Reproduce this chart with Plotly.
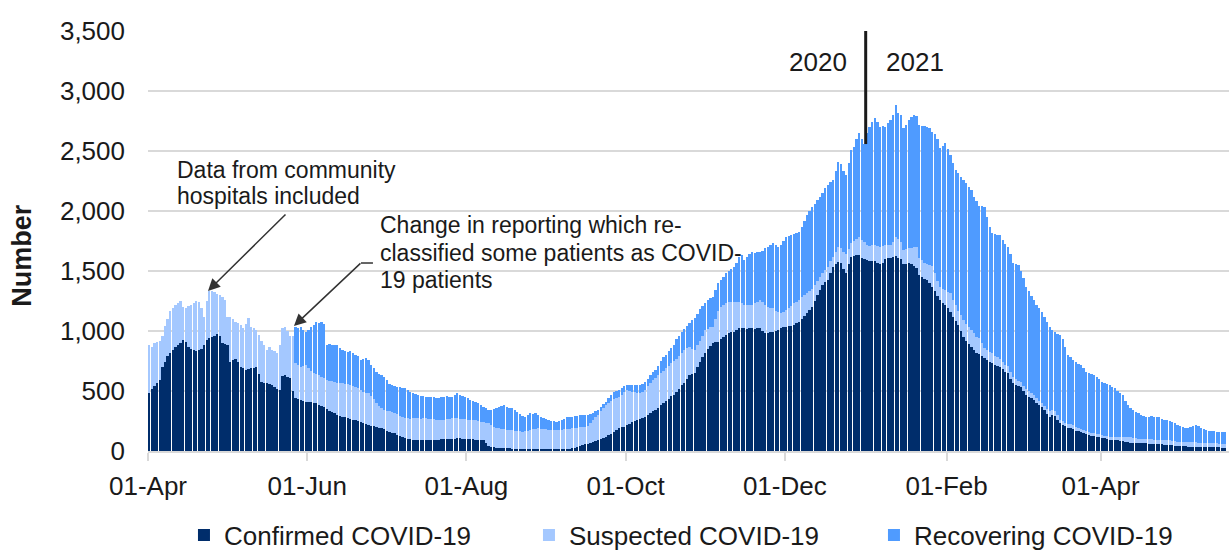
import pandas as pd
import plotly.graph_objects as go

start_date = "2020-04-01"

confirmed = [
    486, 520, 545, 570, 592, 700, 744, 790, 816, 840,
    870, 883, 900, 925, 910, 869, 850, 840, 836, 845,
    850, 880, 925, 940, 950, 960, 975, 955, 900, 890,
    885, 744, 760, 769, 740, 700, 690, 675, 680, 690,
    695, 700, 640, 578, 570, 565, 560, 550, 536, 520,
    508, 628, 630, 620, 610, 500, 439, 430, 425, 418,
    411, 410, 405, 400, 397, 385, 375, 369, 350, 335,
    328, 315, 300, 290, 286, 280, 272, 265, 260, 258,
    250, 240, 232, 225, 217, 210, 205, 200, 195, 189,
    180, 170, 160, 152, 147, 135, 125, 115, 106, 100,
    96, 94, 92, 92, 90, 92, 94, 92, 92, 92,
    94, 95, 97, 97, 97, 100, 102, 104, 106, 106,
    104, 102, 100, 98, 97, 95, 94, 92, 92, 70,
    45, 36, 32, 28, 26, 24, 22, 22, 22, 20,
    18, 17, 16, 15, 15, 15, 14, 15, 15, 15,
    15, 14, 15, 15, 16, 15, 15, 16, 17, 18,
    19, 20, 22, 26, 32, 40, 48, 55, 62, 68,
    75, 82, 92, 100, 110, 119, 130, 145, 160, 175,
    189, 196, 203, 215, 228, 240, 250, 258, 265, 275,
    286, 300, 315, 330, 342, 360, 380, 397, 415, 435,
    455, 467, 490, 520, 550, 564, 600, 633, 640, 647,
    700, 740, 780, 814, 850, 875, 897, 905, 911, 930,
    950, 967, 980, 990, 994, 1010, 1022, 1025, 1022, 1020,
    1022, 1022, 1015, 1022, 1022, 1000, 985, 981, 990, 994,
    1000, 1010, 1022, 1030, 1036, 1040, 1045, 1050, 1065, 1078,
    1100, 1125, 1147, 1175, 1203, 1250, 1300, 1342, 1380, 1410,
    1425, 1480, 1536, 1560, 1578, 1570, 1520, 1480, 1560, 1619,
    1625, 1630, 1630, 1610, 1600, 1590, 1585, 1580, 1583, 1570,
    1556, 1570, 1597, 1605, 1611, 1620, 1625, 1610, 1597, 1556,
    1560, 1570, 1555, 1540, 1528, 1467, 1450, 1435, 1425, 1400,
    1369, 1330, 1290, 1258, 1235, 1217, 1190, 1161, 1120, 1080,
    1050, 1000, 953, 920, 890, 869, 840, 815, 808, 790,
    772, 760, 745, 731, 720, 710, 703, 680, 660, 647,
    600, 564, 550, 540, 536, 500, 470, 453, 440, 425,
    400, 380, 369, 340, 310, 286, 300, 290, 260, 230,
    217, 205, 195, 189, 180, 170, 165, 161, 150, 140,
    133, 128, 122, 119, 115, 110, 106, 100, 95, 92,
    90, 88, 84, 80, 78, 74, 70, 66, 64, 64,
    64, 63, 64, 62, 60, 58, 58, 57, 55, 52,
    50, 48, 46, 45, 44, 42, 40, 38, 36, 36,
    35, 36, 36, 35, 34, 33, 33, 32, 31, 31,
    30, 29, 28,
]

suspected = [
    397, 350, 355, 335, 327, 260, 300, 310, 351, 355,
    347, 352, 350, 275, 280, 339, 370, 390, 414, 395,
    339, 239, 325, 393, 380, 365, 335, 345, 380, 368,
    234, 375, 340, 309, 330, 350, 332, 385, 431, 346,
    330, 310, 327, 342, 313, 277, 310, 292, 294, 294,
    375, 394, 406, 380, 348, 460, 292, 290, 278, 292,
    306, 280, 265, 250, 243, 248, 245, 236, 242, 250,
    252, 260, 270, 277, 278, 280, 283, 283, 280, 278,
    275, 270, 263, 260, 264, 250, 225, 200, 180, 171,
    165, 165, 170, 173, 168, 170, 170, 170, 169, 172,
    174, 178, 182, 180, 180, 180, 178, 178, 176, 173,
    168, 165, 161, 165, 169, 170, 170, 168, 166, 164,
    164, 163, 162, 162, 161, 161, 156, 153, 148, 165,
    186, 179, 171, 167, 164, 161, 158, 156, 153, 152,
    150, 148, 147, 146, 150, 155, 161, 165, 170, 174,
    171, 169, 165, 163, 160, 160, 160, 160, 161, 162,
    164, 166, 167, 166, 163, 158, 152, 148, 148, 162,
    180, 198, 208, 230, 250, 264, 270, 270, 270, 265,
    261, 274, 287, 293, 272, 255, 238, 224, 215, 215,
    224, 240, 255, 260, 266, 270, 270, 273, 275, 275,
    276, 283, 280, 270, 264, 276, 260, 236, 210, 195,
    180, 180, 180, 194, 170, 155, 139, 195, 259, 273,
    265, 264, 260, 255, 251, 235, 223, 210, 195, 195,
    195, 198, 215, 223, 236, 240, 235, 222, 205, 195,
    170, 145, 125, 130, 139, 149, 160, 181, 180, 180,
    180, 175, 167, 155, 147, 130, 120, 111, 100, 100,
    111, 100, 83, 100, 125, 120, 140, 160, 120, 112,
    125, 140, 156, 150, 140, 127, 125, 135, 134, 140,
    144, 135, 120, 112, 106, 120, 161, 155, 148, 119,
    120, 120, 140, 160, 172, 144, 140, 135, 131, 150,
    171, 150, 130, 111, 115, 123, 135, 153, 140, 137,
    120, 130, 139, 140, 140, 139, 140, 135, 131, 110,
    84, 80, 80, 83, 75, 70, 60, 60, 60, 58,
    60, 55, 50, 45, 40, 40, 45, 50, 45, 40,
    38, 36, 35, 38, 42, 50, 45, 45, 40, 32,
    30, 32, 34, 36, 36, 32, 28, 25, 24, 24,
    25, 24, 25, 23, 23, 23, 22, 24, 24, 27,
    29, 30, 33, 39, 40, 42, 44, 44, 42, 40,
    38, 37, 34, 35, 36, 36, 34, 35, 37, 40,
    42, 42, 40, 37, 34, 36, 38, 40, 42, 40,
    39, 36, 34, 33, 32, 31, 31, 32, 33, 33,
    32, 31, 30,
]

recovering = [
    0, 0, 0, 0, 0, 0, 0, 0, 0, 0,
    0, 0, 0, 0, 0, 0, 0, 0, 0, 0,
    0, 0, 0, 0, 0, 0, 0, 0, 0, 0,
    0, 0, 0, 0, 0, 0, 0, 0, 0, 0,
    0, 0, 0, 0, 0, 0, 0, 0, 0, 0,
    0, 0, 0, 0, 0, 0, 300, 305, 330, 300,
    277, 320, 363, 400, 438, 437, 458, 455, 291, 305,
    306, 305, 313, 293, 278, 275, 273, 282, 274, 264,
    265, 248, 270, 287, 279, 257, 260, 260, 267, 270,
    274, 255, 230, 225, 230, 231, 235, 240, 247, 233,
    224, 213, 201, 195, 190, 183, 181, 180, 185, 183,
    177, 185, 192, 191, 189, 183, 181, 193, 209, 200,
    192, 188, 178, 165, 157, 149, 147, 140, 129, 120,
    111, 130, 147, 161, 175, 190, 203, 192, 185, 184,
    172, 163, 147, 134, 121, 130, 139, 130, 129, 111,
    100, 92, 85, 77, 74, 73, 69, 74, 82, 90,
    97, 100, 97, 98, 100, 100, 100, 97, 90, 80,
    65, 55, 42, 40, 35, 28, 40, 55, 60, 60,
    58, 55, 50, 42, 50, 53, 62, 68, 70, 70,
    68, 60, 60, 65, 67, 80, 100, 116, 110, 120,
    125, 130, 160, 170, 180, 180, 185, 195, 240, 264,
    260, 260, 250, 223, 240, 245, 250, 240, 230, 222,
    235, 250, 260, 275, 291, 325, 374, 395, 375, 405,
    428, 441, 420, 410, 403, 430, 470, 500, 525, 542,
    550, 548, 568, 590, 611, 601, 595, 574, 570, 570,
    590, 620, 653, 670, 686, 680, 670, 666, 670, 680,
    681, 660, 639, 670, 708, 700, 670, 660, 720, 777,
    780, 830, 861, 840, 820, 930, 990, 1025, 1055, 1030,
    1003, 1005, 986, 1013, 1041, 1060, 1097, 1055, 1055, 1015,
    1040, 1068, 1085, 1100, 1090, 1106, 1120, 1135, 1147, 1140,
    1121, 1160, 1180, 1153, 1190, 1224, 1195, 1153, 1140, 1123,
    1144, 1150, 1166, 1170, 1170, 1167, 1140, 1130, 1103, 1140,
    1180, 1110, 1045, 1000, 1010, 1020, 1037, 1020, 1005, 998,
    980, 945, 955, 965, 924, 900, 854, 827, 810, 793,
    782, 774, 757, 742, 726, 700, 661, 655, 675, 705,
    683, 633, 571, 555, 542, 538, 532, 531, 516, 497,
    492, 488, 486, 478, 462, 445, 437, 431, 431, 416,
    403, 382, 363, 348, 302, 264, 242, 235, 222, 211,
    198, 190, 188, 188, 192, 192, 194, 188, 178, 170,
    166, 160, 154, 148, 139, 132, 122, 117, 111, 124,
    136, 145, 135, 122, 114, 111, 106, 104, 101, 97,
    99, 102, 103,
]

series_names = ["Confirmed COVID-19", "Suspected COVID-19", "Recovering COVID-19"]
series_colors = ["#002d6b", "#a4c8ff", "#4f9bff"]
tick_dates = ["2020-04-01", "2020-06-01", "2020-08-01", "2020-10-01",
              "2020-12-01", "2021-02-01", "2021-04-01"]
tick_labels = ["01-Apr", "01-Jun", "01-Aug", "01-Oct", "01-Dec", "01-Feb", "01-Apr"]
y_ticks = [0, 500, 1000, 1500, 2000, 2500, 3000, 3500]

dates = pd.date_range(start_date, periods=len(confirmed), freq="D")

FONT = "Liberation Sans, Arial, sans-serif"
fig = go.Figure()
for name, vals, col in zip(series_names, [confirmed, suspected, recovering], series_colors):
    fig.add_trace(go.Bar(
        x=dates, y=vals, name=name, marker_color=col, marker_line_width=0,
        xperiod=86400000, xperiodalignment="middle",
    ))

fig.update_layout(
    barmode="stack", bargap=0.12,
    width=1229, height=551,
    margin=dict(l=148, r=0, t=31, b=100, autoexpand=False),
    paper_bgcolor="white", plot_bgcolor="white",
    font=dict(family=FONT, size=26, color="#1a1a1a"),
    showlegend=True,
    legend=dict(orientation="h", x=0.512, xanchor="center", y=-0.2, yanchor="middle",
                font=dict(size=26, color="#1a1a1a"), itemwidth=30,
                entrywidth=300, entrywidthmode="pixels", traceorder="normal"),
)
fig.update_xaxes(
    type="date", range=["2020-04-01", "2021-05-20 05:00"], automargin=False,
    tickvals=tick_dates, ticktext=tick_labels,
    showline=True, linecolor="#d9d9d9", linewidth=1.5,
    ticks="outside", ticklen=8, tickcolor="#d9d9d9", tickwidth=1.5,
    showgrid=False, ticklabelstandoff=3,
    tickfont=dict(size=26, color="#1a1a1a"),
)
fig.update_yaxes(
    range=[0, 3500], tickvals=y_ticks, tickformat=",", automargin=False,
    showgrid=True, gridcolor="#d9d9d9", gridwidth=1.5,
    zeroline=False, showline=False, ticks="", ticklabelstandoff=22,
    tickfont=dict(size=26, color="#1a1a1a"),
)

ann = dict(xref="paper", yref="paper", showarrow=False, font=dict(family=FONT, size=23, color="#1a1a1a"))
fig.add_annotation(text="Number", x=-0.1166, y=0.467, textangle=-90, xanchor="center", yanchor="middle",
                   xref="paper", yref="paper", showarrow=False,
                   font=dict(family=FONT, size=27, color="#1a1a1a", weight="bold"))
fig.add_annotation(text="Data from community", x=0.025, y=0.669, xanchor="left", yanchor="middle", **ann)
fig.add_annotation(text="hospitals included", x=0.025, y=0.607, xanchor="left", yanchor="middle", **ann)
fig.add_annotation(text="Change in reporting which re-", x=0.2128, y=0.538, xanchor="left", yanchor="middle", **ann)
fig.add_annotation(text="classified some patients as COVID-", x=0.2128, y=0.4714, xanchor="left", yanchor="middle", **ann)
fig.add_annotation(text="19 patients", x=0.2128, y=0.407, xanchor="left", yanchor="middle", **ann)
fig.add_annotation(text="2020", x=0.6198, y=0.926, xanchor="center", yanchor="middle",
                   xref="paper", yref="paper", showarrow=False, font=dict(family=FONT, size=26, color="#1a1a1a"))
fig.add_annotation(text="2021", x=0.7095, y=0.926, xanchor="center", yanchor="middle",
                   xref="paper", yref="paper", showarrow=False, font=dict(family=FONT, size=26, color="#1a1a1a"))

# arrows
fig.add_annotation(text="", x=0.0555, y=0.381, xref="paper", yref="paper", ax=79, ay=-78,
                   showarrow=True, arrowhead=2, arrowsize=1.6, arrowwidth=1.5, arrowcolor="#333333", standoff=0)
fig.add_annotation(text="", x=0.1350, y=0.2976, xref="paper", yref="paper", ax=68, ay=-64,
                   showarrow=True, arrowhead=2, arrowsize=1.6, arrowwidth=1.5, arrowcolor="#333333", standoff=0)
fig.add_shape(type="line", xref="paper", yref="paper", x0=0.197, x1=0.2081, y0=0.4476, y1=0.4476,
              line=dict(color="#333333", width=1.5))
# year divider
fig.add_shape(type="line", xref="x", yref="y", x0="2021-01-01", x1="2021-01-01", y0=2558, y1=3510,
              line=dict(color="#1a1a1a", width=3))

fig.write_html("out.html", config={"displayModeBar": False},
               post_script="document.body.style.margin='0px';document.body.style.padding='0px';")
